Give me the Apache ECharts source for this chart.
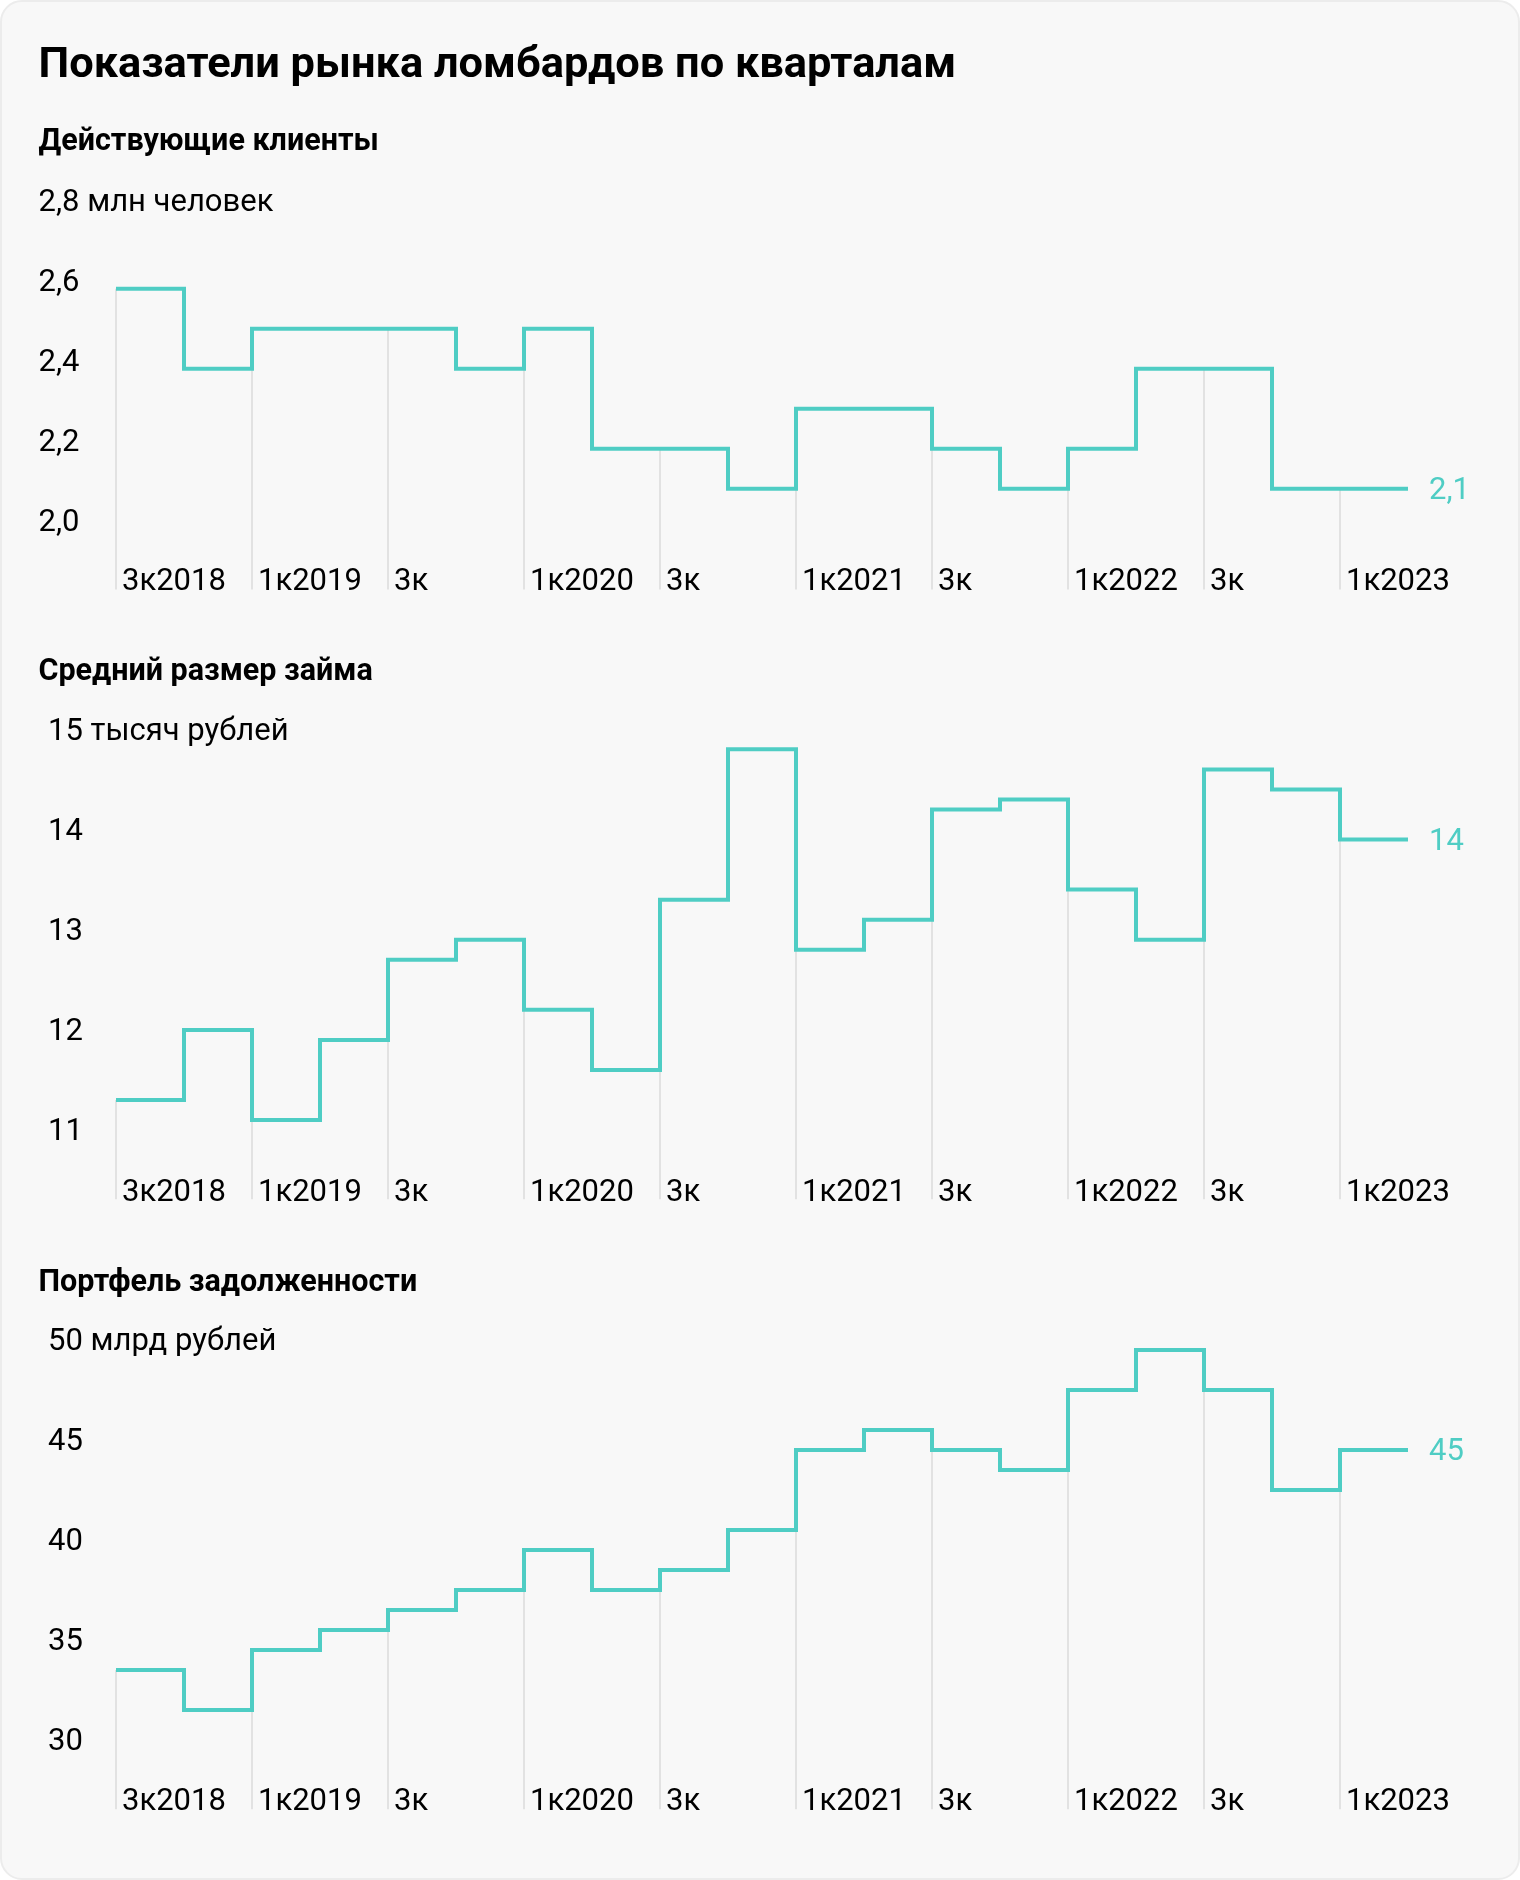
<!DOCTYPE html>
<html>
<head>
<meta charset="utf-8">
<script src="https://cdn.jsdelivr.net/npm/echarts@6/dist/echarts.min.js"></script>
<style>
html, body { margin: 0; padding: 0; background: #ffffff; }
#card { position: absolute; left: 0; top: 0; width: 1516px; height: 1876px; background: #f8f8f8; border: 2px solid #ececec; border-radius: 22px; }
#chart { position: absolute; left: 0; top: 0; width: 1520px; height: 1880px; }
</style>
</head>
<body>
<div id="card"></div>
<div id="chart"></div>
<script>
// ---- data ----
const quarters = ['3к2018','4к2018','1к2019','2к2019','3к2019','4к2019','1к2020','2к2020','3к2020','4к2020',
                  '1к2021','2к2021','3к2021','4к2021','1к2022','2к2022','3к2022','4к2022','1к2023'];
const xTickLabels = ['3к2018','','1к2019','','3к','','1к2020','','3к','','1к2021','','3к','','1к2022','','3к','','1к2023'];
const activeClients = [2.58, 2.38, 2.48, 2.48, 2.48, 2.38, 2.48, 2.18, 2.18, 2.08, 2.28, 2.28, 2.18, 2.08, 2.18, 2.38, 2.38, 2.08, 2.08];
const avgLoan = [11.3, 12.0, 11.1, 11.9, 12.7, 12.9, 12.2, 11.6, 13.3, 14.8, 12.8, 13.1, 14.2, 14.3, 13.4, 12.9, 14.6, 14.4, 13.9];
const portfolio = [33.5, 31.5, 34.5, 35.5, 36.5, 37.5, 39.5, 37.5, 38.5, 40.5, 44.5, 45.5, 44.5, 43.5, 47.5, 49.5, 47.5, 42.5, 44.5];
const mainTitle = 'Показатели рынка ломбардов по кварталам';
const panelTitles = ['Действующие клиенты', 'Средний размер займа', 'Портфель задолженности'];
const panelUnits = ['млн человек', 'тысяч рублей', 'млрд рублей'];
const yTicks1 = [2.0, 2.2, 2.4, 2.6, 2.8];
const yTicks2 = [11, 12, 13, 14, 15];
const yTicks3 = [30, 35, 40, 45, 50];

// ---- style / layout ----
const TEAL = '#4fcdc4';
const FONT = 'Roboto';
const TICK_SIZE = 31;
const panels = [
  { values: activeClients, ticks: yTicks1, decimals: 1, endDecimals: 1, min: 1.8, max: 2.8, interval: 0.2,
    gridTop: 200.7, gridHeight: 400, dropBase: 1.828, xMargin: 18, yMargin: 77.5, titleY: 142 },
  { values: avgLoan, ticks: yTicks2, decimals: 0, endDecimals: 0, min: 10, max: 15, interval: 1,
    gridTop: 729.3, gridHeight: 501, dropBase: 10.31, xMargin: 37.3, yMargin: 68, titleY: 672.5 },
  { values: portfolio, ticks: yTicks3, decimals: 0, endDecimals: 0, min: 25, max: 50, interval: 5,
    gridTop: 1340, gridHeight: 500, dropBase: 26.535, xMargin: 37.3, yMargin: 68, titleY: 1283.5 }
];

function fmt(v, d) { return v.toFixed(d).replace('.', ','); }

const grids = [], xAxes = [], yAxes = [], series = [];
const graphics = [{
  type: 'text', x: 38.5, y: 66.5,
  style: { text: mainTitle, font: 'bold 43.4px ' + FONT, fill: '#000', verticalAlign: 'middle' }
}];

panels.forEach((p, k) => {
  grids.push({ left: 116, right: 112, top: p.gridTop, height: p.gridHeight, outerBoundsMode: 'none' });
  xAxes.push({
    type: 'value', gridIndex: k, min: 0, max: quarters.length, interval: 1,
    axisLine: { show: false }, axisTick: { show: false }, splitLine: { show: false },
    axisLabel: {
      inside: true, margin: p.xMargin, align: 'left', verticalAlign: 'middle', padding: [0, 0, 0, 6],
      fontFamily: FONT, fontSize: TICK_SIZE, color: '#000',
      formatter: v => xTickLabels[Math.round(v)] || ''
    }
  });
  const topTick = p.ticks[p.ticks.length - 1];
  yAxes.push({
    type: 'value', gridIndex: k, min: p.min, max: p.max, interval: p.interval,
    axisLine: { show: false }, axisTick: { show: false }, splitLine: { show: false },
    axisLabel: {
      showMinLabel: false, margin: p.yMargin, align: 'left', verticalAlign: 'top', lineHeight: 5,
      fontFamily: FONT, fontSize: TICK_SIZE, color: '#000',
      formatter: v => {
        const hit = p.ticks.some(t => Math.abs(t - v) < 1e-6);
        if (!hit) return '';
        const s = fmt(v, p.decimals);
        return Math.abs(v - topTick) < 1e-6 ? s + ' ' + panelUnits[k] : s;
      }
    }
  });
  const lineData = p.values.map((v, i) => [i, v]);
  lineData.push([p.values.length, p.values[p.values.length - 1]]);
  series.push({
    type: 'custom', xAxisIndex: k, yAxisIndex: k, silent: true, z: 1,
    data: p.values.map((v, i) => [i, v]).filter(d => xTickLabels[d[0]] !== ''),
    renderItem: (params, api) => {
      const a = api.coord([api.value(0), api.value(1)]);
      const b = api.coord([api.value(0), p.dropBase]);
      return { type: 'line', shape: { x1: a[0], y1: a[1], x2: b[0], y2: b[1] },
               style: { stroke: '#e2e2e2', lineWidth: 2 } };
    }
  });
  series.push({
    type: 'line', xAxisIndex: k, yAxisIndex: k, step: 'end', symbol: 'none', z: 3,
    data: lineData, animation: false,
    lineStyle: { color: TEAL, width: 4, join: 'miter', cap: 'butt' },
    endLabel: {
      show: true, distance: 21, color: TEAL, fontFamily: FONT, fontSize: TICK_SIZE,
      verticalAlign: 'top', lineHeight: 5,
      formatter: () => fmt(p.values[p.values.length - 1], p.endDecimals)
    }
  });
  graphics.push({
    type: 'text', x: 38.5, y: p.titleY,
    style: { text: panelTitles[k], font: 'bold 30.5px ' + FONT, fill: '#000', verticalAlign: 'middle' }
  });
});

const chart = echarts.init(document.getElementById('chart'), null, { renderer: 'canvas' });
chart.setOption({
  animation: false,
  backgroundColor: 'transparent',
  grid: grids, xAxis: xAxes, yAxis: yAxes, series: series, graphic: graphics
});
</script>
</body>
</html>
